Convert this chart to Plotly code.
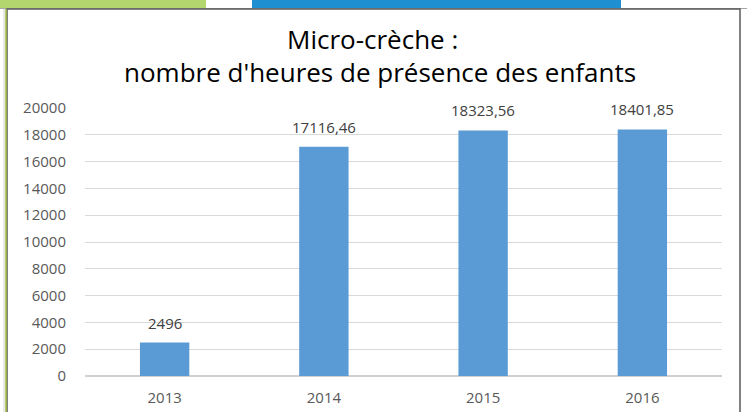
import plotly.graph_objects as go

years = ["2013", "2014", "2015", "2016"]
hours = [2496, 17116.46, 18323.56, 18401.85]
hour_labels = ["2496", "17116,46", "18323,56", "18401,85"]
y_ticks = [0, 2000, 4000, 6000, 8000, 10000, 12000, 14000, 16000, 18000, 20000]

W, H = 747, 412
L, R, T, B = 85, 25, 108, 36
pw, ph = W - L - R, H - T - B
FONT = "Open Sans, sans-serif"

def px(x):
    return (x - L) / pw

def py(y):
    return (H - B - y) / ph

fig = go.Figure(go.Bar(
    x=years, y=hours,
    marker=dict(color="#5b9bd5", line=dict(width=0)),
    hoverinfo="x+y",
))

# category axis: annotations positioned by category index
label_annotations = [
    dict(x=i, y=v, text=t, xref="x", yref="y", showarrow=False,
         xanchor="center", yanchor="bottom", yshift=8,
         font=dict(family=FONT, size=15, color="#404040"))
    for i, (v, t) in enumerate(zip(hours, hour_labels))
]

fig.update_layout(
    width=W, height=H,
    margin=dict(l=L, r=R, t=T, b=B, autoexpand=False),
    paper_bgcolor="white", plot_bgcolor="white",
    bargap=0.69,
    showlegend=False,
    font=dict(family=FONT, color="#595959"),
    xaxis=dict(type="category", range=[-0.5, len(years) - 0.5], showgrid=False, showline=False,
               automargin=False, ticks="", ticklabelstandoff=11,
               tickfont=dict(size=15, color="#595959")),
    yaxis=dict(range=[0, 20000], tickvals=y_ticks, ticktext=[str(v) for v in y_ticks],
               automargin=False,
               showgrid=True, gridcolor="#d9d9d9", gridwidth=1, zeroline=True,
               zerolinecolor="#d0d0d0", zerolinewidth=1.5, showline=False, ticks="",
               ticklabelstandoff=18, tickfont=dict(size=15, color="#595959")),
    shapes=[
        dict(type="rect", xref="paper", yref="paper", x0=px(0), x1=px(206), y0=py(0), y1=py(8),
             fillcolor="#b4d66e", line=dict(width=0), layer="below"),
        dict(type="rect", xref="paper", yref="paper", x0=px(252), x1=px(621), y0=py(0), y1=py(8),
             fillcolor="#1e8fd0", line=dict(width=0), layer="below"),
        dict(type="line", xref="paper", yref="paper", x0=px(0), x1=px(747), y0=py(8.5), y1=py(8.5),
             line=dict(color="#a6a6a6", width=1), layer="below"),
        dict(type="rect", xref="paper", yref="paper", x0=px(7), x1=px(740), y0=py(9), y1=py(420),
             fillcolor="white", line=dict(color="#595959", width=1.5), layer="below"),
        dict(type="line", xref="paper", yref="paper", x0=px(4), x1=px(4), y0=py(9), y1=py(420),
             line=dict(color="#d0d0d0", width=1), layer="below"),
        dict(type="line", xref="paper", yref="paper", x0=px(6), x1=px(6), y0=py(9), y1=py(420),
             line=dict(color="#9bbb3b", width=1.5), layer="below"),
    ],
    annotations=label_annotations + [
        dict(text="Micro-crèche :", xref="paper", yref="paper", x=px(372), y=py(39),
             showarrow=False, xanchor="center", yanchor="middle",
             font=dict(family=FONT, size=26, color="#000000")),
        dict(text="nombre d'heures de présence des enfants", xref="paper", yref="paper", x=px(380), y=py(72),
             showarrow=False, xanchor="center", yanchor="middle",
             font=dict(family=FONT, size=26, color="#000000")),
    ],
)

fig.write_html("out.html", config={"displayModeBar": False},
               post_script="document.body.style.margin='0';")
